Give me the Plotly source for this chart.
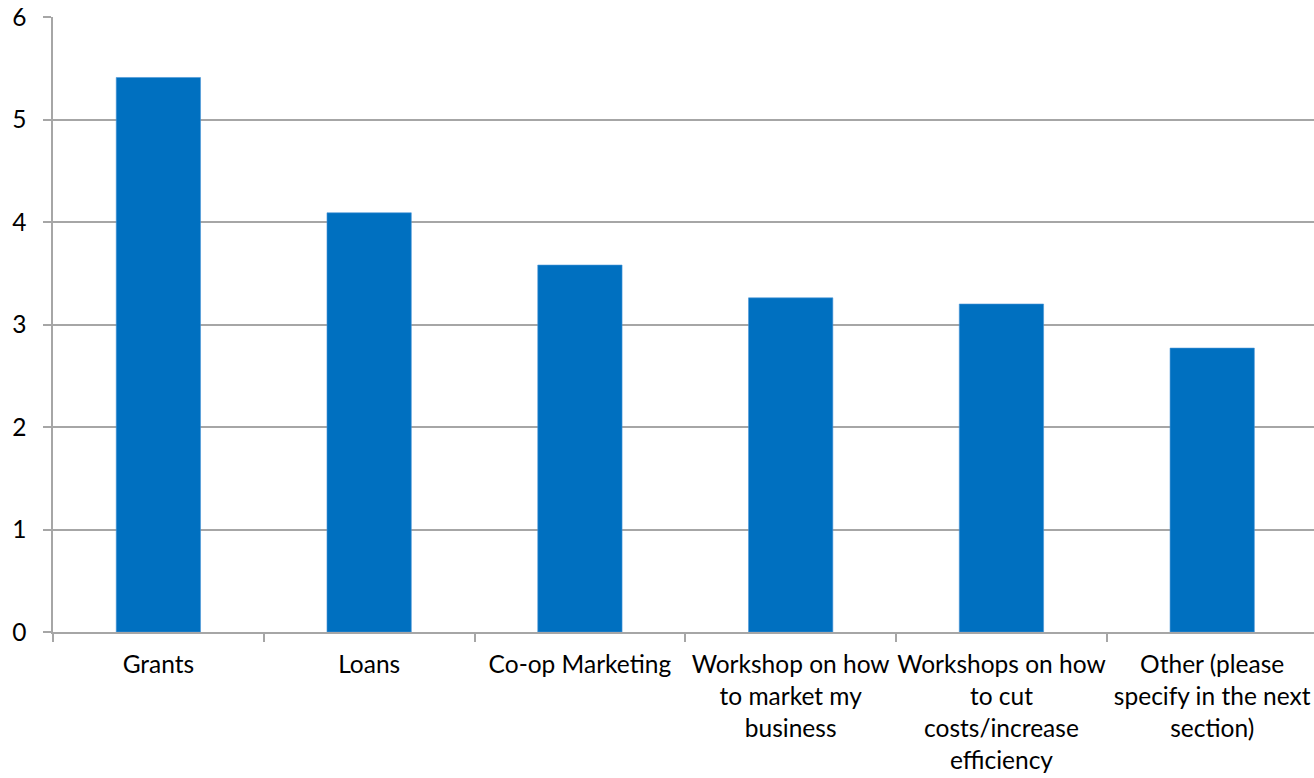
import plotly.graph_objects as go

# Survey results: average rating per type of support
categories = [
    "Grants",
    "Loans",
    "Co-op Marketing",
    "Workshop on how<br>to market my<br>business",
    "Workshops on how<br>to cut<br>costs/increase<br>efficiency",
    "Other (please<br>specify in the next<br>section)",
]
values = [5.41, 4.09, 3.58, 3.26, 3.2, 2.77]
y_ticks = [0, 1, 2, 3, 4, 5, 6]

BAR_BLUE = "#0070C0"
GRID_GRAY = "#A6A6A6"
FONT = dict(family="Lato, Calibri, sans-serif", size=24.5, color="#000000")

fig = go.Figure(
    go.Bar(
        x=categories,
        y=values,
        width=0.4,
        marker=dict(color=BAR_BLUE, line=dict(color="#4A95D6", width=0.6)),
        hoverinfo="x+y",
    )
)

fig.update_layout(
    width=1314,
    height=778,
    margin=dict(l=53, r=0, t=17, b=146),
    paper_bgcolor="white",
    plot_bgcolor="white",
    font=FONT,
    showlegend=False,
    bargap=0.6,
)

fig.update_xaxes(
    type="category",
    range=[-0.5, 5.483],
    showgrid=False,
    showline=True,
    linecolor=GRID_GRAY,
    linewidth=1.5,
    ticks="outside",
    tickson="boundaries",
    ticklen=8,
    tickcolor=GRID_GRAY,
    tickwidth=1.5,
    tickangle=0,
    tickfont=FONT,
    ticklabelstandoff=10,
)

fig.update_yaxes(
    range=[0, 6],
    tickvals=y_ticks,
    showgrid=True,
    gridcolor=GRID_GRAY,
    gridwidth=1.5,
    showline=True,
    linecolor=GRID_GRAY,
    linewidth=1.5,
    ticks="outside",
    ticklen=8,
    tickcolor=GRID_GRAY,
    tickwidth=1.5,
    tickfont=FONT,
    ticklabelstandoff=12,
    zeroline=False,
)

fig.write_html("out.html")
